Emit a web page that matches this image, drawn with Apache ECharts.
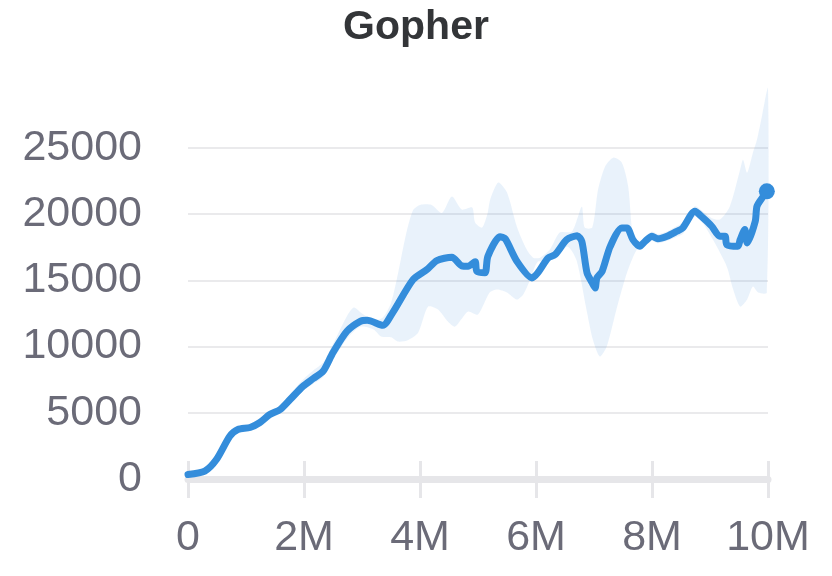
<!DOCTYPE html>
<html>
<head>
<meta charset="utf-8">
<script src="https://cdn.jsdelivr.net/npm/echarts@6/dist/echarts.min.js"></script>
<style>html,body{margin:0;padding:0;background:#fff}#c{width:832px;height:576px}</style>
</head>
<body>
<div id="c"></div>
<script>
// steps (millions) and mean score
var meanSteps = [0,0.29,0.49,0.72,0.86,1.07,1.24,1.41,1.59,1.76,1.98,2.16,2.33,2.5,2.74,2.97,3.09,3.36,3.53,3.88,4.12,4.29,4.55,4.72,4.83,4.95,4.98,5.12,5.17,5.38,5.47,5.67,5.93,6.03,6.21,6.33,6.53,6.71,6.79,6.88,6.97,7.02,7.05,7.14,7.28,7.48,7.57,7.67,7.79,7.88,8.0,8.1,8.26,8.43,8.53,8.74,8.88,9.03,9.17,9.26,9.29,9.48,9.52,9.6,9.64,9.78,9.81,9.9,9.98];
var meanScore = [340,600,1470,3230,3740,3890,4270,4870,5250,6000,7000,7590,8140,9550,11160,11910,11990,11610,12570,15060,15820,16500,16750,16100,16070,16400,15690,15570,16820,18290,18140,16450,15190,15570,16700,16950,18080,18380,17950,15570,14810,14430,15190,15690,17570,18960,18960,18080,17570,17950,18330,18140,18330,18710,18960,20220,19720,19090,18330,18330,17700,17570,18080,18840,17830,19460,20600,21230,21730];

var upperSteps = [0,0.3,0.5,0.72,0.86,1.07,1.24,1.41,1.59,1.76,1.98,2.16,2.33,2.5,2.74,2.86,3.0,3.2,3.36,3.5,3.62,3.76,3.88,4.0,4.2,4.38,4.55,4.72,4.9,4.95,5.07,5.16,5.21,5.35,5.5,5.67,5.84,5.95,6.07,6.24,6.41,6.62,6.79,6.84,6.97,7.07,7.19,7.33,7.48,7.59,7.67,7.79,7.88,8.0,8.1,8.26,8.43,8.53,8.74,8.88,9.03,9.17,9.34,9.52,9.57,9.64,9.74,9.81,9.9,10.0];
var upperScore = [400,750,1650,3450,3950,4050,4450,5100,5550,6400,7500,8200,8800,10200,12300,12950,12500,12000,12200,13300,15500,18500,20300,20700,20700,20100,21330,20350,20500,19370,18990,19970,21100,22390,21630,19060,17330,16720,16720,17330,18610,18690,20570,18990,18990,21860,23590,24270,23890,22080,18500,17900,18300,18700,18500,18700,19100,19400,20600,20200,19700,19600,20570,23370,24120,23140,24650,25630,27500,29500];

var lowerSteps = [0,0.3,0.5,0.72,0.86,1.07,1.24,1.41,1.59,1.76,1.98,2.16,2.33,2.5,2.74,2.97,3.2,3.33,3.5,3.62,3.8,3.97,4.14,4.31,4.48,4.6,4.71,4.83,5.0,5.2,5.33,5.5,5.67,5.78,5.9,6.03,6.21,6.4,6.55,6.7,6.88,6.98,7.1,7.22,7.4,7.57,7.74,7.88,8.0,8.1,8.26,8.43,8.53,8.74,8.88,9.05,9.29,9.4,9.52,9.64,9.74,9.83,9.98];
var lowerScore = [280,480,1300,3000,3550,3700,4100,4650,5000,5700,6650,7200,7700,9000,10600,11500,11300,10760,10700,10380,10500,11060,13020,12800,11890,11500,12040,12650,12420,14080,14310,14080,13550,13930,15060,16400,16400,17000,17550,16500,12570,10530,9250,10000,13020,15590,17330,17600,18000,17800,18000,18300,18500,19800,19300,18080,16040,14310,13020,13550,14530,14080,14080];

var xTicks = ['0','2M','4M','6M','8M','10M'];
var yTicks = [0,5000,10000,15000,20000,25000];

var M = 1e6;
var meanData = meanSteps.map(function(s,i){return [s*M, meanScore[i]];});
var upperData = upperSteps.map(function(s,i){return [s*M, upperScore[i]];});
var lowerData = lowerSteps.map(function(s,i){return [s*M, lowerScore[i]];});
var lastPoint = meanData[meanData.length-1];

var FONT = 'Liberation Sans, Arial, sans-serif';
var chart = echarts.init(document.getElementById('c'), null, {renderer:'canvas'});
chart.setOption({
  animation: false,
  title: {
    text: 'Gopher', left: 'center', top: 2,
    textStyle: {fontFamily: FONT, fontSize: 41, fontWeight: 'bold', color: '#333538'}
  },
  grid: {left: 188, right: 64, top: 148, bottom: 97, containLabel: false},
  xAxis: [{
    type: 'value', min: 0, max: 10*M, interval: 2*M,
    axisLine: {show: true, lineStyle: {color: '#e6e6e9', width: 7}},
    axisTick: {show: true, length: 19, lineStyle: {color: '#e6e6e9', width: 3}},
    splitLine: {show: false},
    axisLabel: {
      margin: 38, fontFamily: FONT, fontSize: 43, color: '#6b6b78',
      formatter: function(v){ return xTicks[Math.round(v/(2*M))]; }
    }
  },{
    type: 'value', min: 0, max: 10*M, interval: 2*M, position: 'bottom',
    axisLine: {show: false},
    axisTick: {show: true, inside: true, length: 18, lineStyle: {color: '#e6e6e9', width: 3}},
    axisLabel: {show: false}, splitLine: {show: false}
  }],
  yAxis: {
    type: 'value', min: 0, max: 25000, interval: 5000,
    axisLine: {show: false}, axisTick: {show: false},
    splitLine: {lineStyle: {color: '#e3e3e6', width: 1.5}},
    axisLabel: {
      margin: 46, fontFamily: FONT, fontSize: 43, color: '#6b6b78',
      formatter: function(v){ return yTicks.indexOf(v) >= 0 ? String(v) : ''; }
    }
  },
  series: [{
    type: 'custom',
    clip: false,
    silent: true,
    z: 1,
    data: [0],
    renderItem: function(params, api){
      var pts = [];
      upperData.forEach(function(p){ pts.push(api.coord(p)); });
      for (var i = lowerData.length-1; i >= 0; i--) pts.push(api.coord(lowerData[i]));
      return {
        type: 'polygon',
        shape: {points: pts, smooth: 0.25},
        style: {fill: 'rgba(52,141,219,0.11)', stroke: null}
      };
    }
  },{
    type: 'line',
    data: meanData,
    showSymbol: false,
    smooth: 0.25,
    z: 3,
    lineStyle: {color: '#348ddb', width: 7, cap: 'round', join: 'round'}
  },{
    type: 'scatter',
    data: [lastPoint],
    symbol: 'circle', symbolSize: 16,
    z: 4,
    itemStyle: {color: '#348ddb', opacity: 1}
  }]
});
</script>
</body>
</html>
